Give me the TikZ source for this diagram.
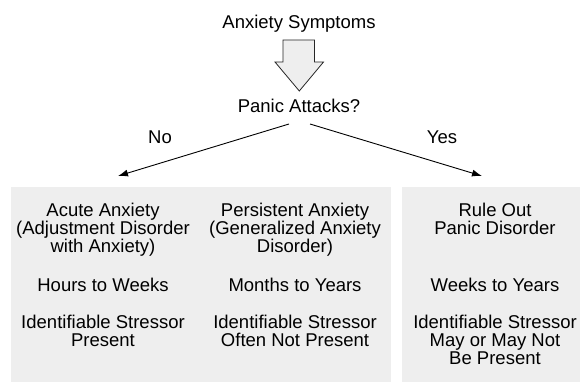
\documentclass[tikz,border=0pt]{standalone}
\usepackage{fontspec}
\setmainfont{Liberation Sans}
\usetikzlibrary{arrows.meta}
\definecolor{panelgray}{HTML}{EEEEEE}
\tikzset{
  lbl/.style={font=\fontsize{18.5}{18}\selectfont, inner sep=0pt, anchor=base},
  blk/.style={font=\fontsize{18.5}{18}\selectfont, align=center, inner sep=0pt, anchor=north,
              execute at begin node={\rule{0pt}{14pt}}},
  panel/.style={fill=panelgray, draw=none},
  conn/.style={line width=0.9pt, -{Latex[length=10pt,width=7pt]}},
  bigarrow/.style={fill=panelgray, draw=black!85, line width=0.8pt, line join=miter},
}
\begin{document}
\begin{tikzpicture}[x=1pt,y=-1pt]
\useasboundingbox (0,0) rectangle (580,382);
\fill[white] (0,0) rectangle (580,382);
% panels
\path[panel] (11,187) rectangle (391,382);
\path[panel] (402,187) rectangle (580,382);
% titles
\node[lbl] (title) at (299,29) {Anxiety Symptoms};
\node[lbl] (panic) at (299,113) {Panic Attacks?};
\node[lbl] (no) at (160,144) {No};
\node[lbl] (yes) at (442,144) {Yes};
% block arrow
\draw[bigarrow] (283,40) -- (314.5,40) -- (314.5,62) -- (323.5,62) -- (299.3,91)
  -- (275,62) -- (283,62) -- cycle;
% connectors
\coordinate (noStart) at (289,124);
\coordinate (noEnd) at (118,176);
\coordinate (yesStart) at (310,124);
\coordinate (yesEnd) at (482,176);
\draw[conn] (noStart) -- (noEnd);
\draw[conn] (yesStart) -- (yesEnd);
% column texts
\node[blk] (a1) at (103,203) {Acute Anxiety\\(Adjustment Disorder\\with Anxiety)};
\node[blk] (a2) at (103,277) {Hours to Weeks};
\node[blk] (a3) at (103,314.5) {Identifiable Stressor\\Present};
\node[blk] (p1) at (295,203) {Persistent Anxiety\\(Generalized Anxiety\\Disorder)};
\node[blk] (p2) at (295,277) {Months to Years};
\node[blk] (p3) at (295,314.5) {Identifiable Stressor\\Often Not Present};
\node[blk] (r1) at (495,203) {Rule Out\\Panic Disorder};
\node[blk] (r2) at (495,277) {Weeks to Years};
\node[blk] (r3) at (495,314.5) {Identifiable Stressor\\May or May Not\\Be Present};
\end{tikzpicture}
\end{document}
